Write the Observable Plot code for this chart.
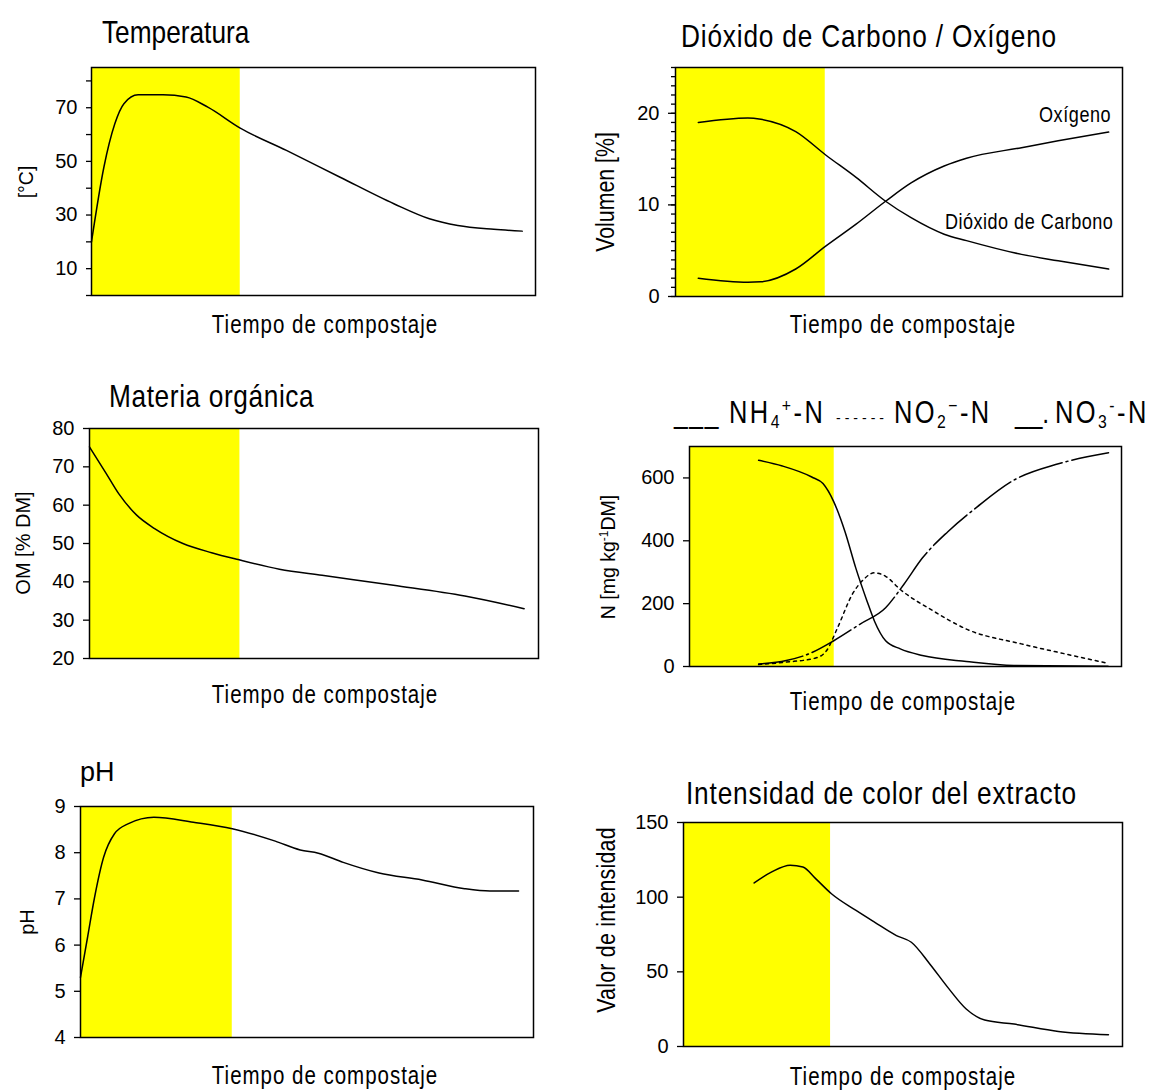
<!DOCTYPE html>
<html><head><meta charset="utf-8">
<script src="https://cdn.jsdelivr.net/npm/d3@7"></script>
<script src="https://cdn.jsdelivr.net/npm/@observablehq/plot@0.6"></script>
<style>
body{margin:0;background:#fff;}
#root{position:relative;width:1156px;height:1092px;overflow:hidden;background:#fff;}
.t{position:absolute;white-space:nowrap;line-height:1;color:#000;font-family:"Liberation Sans",Arial,sans-serif;}
.t .in{display:inline-block;white-space:nowrap;}
.t sub,.t sup{font-size:0.62em;line-height:0;position:relative;vertical-align:baseline;}
.t sub{top:0.3em;}
.t sup{top:-0.55em;}
</style></head><body><div id="root"></div>
<script>
// ---------- data ----------
const phaseEnd = 33.5;           // end of the thermophilic (yellow) phase, time units 0-100
const timeDomain = [0, 100];

// Temperatura
const tempTime  = [0, 2.8, 5.25, 7.3, 10.5, 16.1, 21.3, 26.2, 33.5, 43.9, 56, 68.1, 76.1, 82.5, 90.6, 97];
const tempValue = [20, 47.9, 64, 71.5, 74.8, 74.8, 74, 70.2, 62.4, 54.1, 44.1, 34.2, 28.6, 26.1, 24.7, 24];
const tempTicks = [0, 10, 20, 30, 40, 50, 60, 70, 80];
const tempTickLabels = [10, 30, 50, 70];

// Dióxido de Carbono / Oxígeno
const gasTime   = [5.1, 16.2, 19.1, 26.9, 33.6, 40.4, 47.0, 52.7, 60.1, 65.1, 77.4, 85.6, 96.9];
const co2Value  = [19.0, 19.5, 19.35, 18.0, 15.45, 13.0, 10.4, 8.6, 6.8, 6.1, 4.6, 3.9, 3.0];
const o2Value   = [2.0, 1.55, 1.6, 3.0, 5.5, 7.9, 10.4, 12.4, 14.25, 15.1, 16.25, 17.0, 17.95];
const gasTickLabels = [0, 10, 20];
const gasMinorTicks = [0,1,2,3,4,5,6,7,8,9,10,11,12,13,14,15,16,17,18,19,20,21,22,23,24,25];

// Materia orgánica
const omTime  = [0, 3.7, 6.5, 10.5, 14.5, 20.8, 27.2, 33.1, 42.3, 51.8, 67.7, 83.6, 96.8];
const omValue = [75.2, 68.3, 63.0, 57.4, 53.9, 50.0, 47.6, 45.8, 43.3, 41.7, 39.1, 36.3, 33.0];
const omTicks = [20, 30, 40, 50, 60, 70, 80];

// Nitrógeno
const nh4Time  = [16, 21.5, 28.3, 30.9, 33.4, 36.0, 38.5, 41.1, 42.8, 45.4, 48.8, 53.9, 64.1, 75.1, 96.9];
const nh4Value = [656, 638, 603, 582, 524, 429, 313, 208, 145, 82, 56, 35, 16, 3, 1];
const no2Time  = [16, 22.4, 29.2, 31.7, 34.3, 37.7, 40.3, 42.8, 45.4, 48.8, 56.4, 64.1, 76.8, 87, 96.9];
const no2Value = [6, 14, 27, 50, 124, 230, 277, 298, 287, 245, 177, 119, 72, 40, 10];
const no3Time  = [16, 22.4, 27.6, 33.4, 39.5, 45.4, 49.6, 53.9, 59.8, 66.6, 75.1, 85.4, 97];
const no3Value = [8, 19, 40, 82, 135, 187, 261, 345, 429, 508, 593, 645, 680];
const nTicks = [0, 200, 400, 600];

// pH
const phTime  = [0, 1.56, 3.1, 5.1, 7.5, 10.6, 16.2, 24.9, 33.5, 43.0, 48.5, 52.5, 58.0, 65.9, 75.4, 84.8, 90.4, 96.7];
const phValue = [5.30, 6.17, 7.03, 7.90, 8.41, 8.63, 8.77, 8.66, 8.52, 8.25, 8.06, 7.99, 7.79, 7.56, 7.41, 7.22, 7.17, 7.17];
const phTicks = [4, 5, 6, 7, 8, 9];

// Intensidad de color
const intTime  = [16.1, 20.1, 24.3, 27.2, 30.1, 33.7, 39.3, 43.5, 48.5, 51.9, 56.1, 60.2, 64.4, 68.6, 75.3, 85.4, 96.8];
const intValue = [109.5, 116.9, 121.4, 120.2, 112.4, 102.3, 91.1, 83.3, 74.3, 69.8, 55.3, 39.6, 25.1, 17.7, 15.0, 10.1, 7.9];
const intTicks = [0, 50, 100, 150];

// ---------- helpers ----------
const root = document.getElementById("root");
const phases = [{start: 0, end: phaseEnd}];
const rows = (t, v) => t.map((x, i) => ({t: x, v: v[i]}));

function chart({frame, yDomain, axes, lines}) {
  const [x0, x1, y0, y1] = frame;
  const ml = 80, mr = 6, mt = 6, mb = 6;
  const marks = [
    Plot.rect(phases, {x1: "start", x2: "end", fill: "#ffff00"}),
    ...axes,
    ...lines.map(l => Plot.line(l.data, {x: "t", y: "v", curve: "monotone-x", stroke: "black",
      strokeWidth: 1.5, strokeDasharray: l.dash})),
    Plot.frame({stroke: "black", strokeWidth: 1.5})
  ];
  const el = Plot.plot({
    width: x1 - x0 + ml + mr, height: y1 - y0 + mt + mb,
    marginLeft: ml, marginRight: mr, marginTop: mt, marginBottom: mb,
    x: {domain: timeDomain, axis: null},
    y: {domain: yDomain, label: null},
    style: {fontFamily: '"Liberation Sans", Arial, sans-serif', fontSize: "20px",
      background: "transparent", overflow: "visible", color: "black"},
    marks
  });
  el.style.position = "absolute";
  el.style.left = (x0 - ml) + "px";
  el.style.top = (y0 - mt) + "px";
  root.appendChild(el);
}
const axis = (ticks, size, labels) => Plot.axisY({ticks, tickSize: size, tickPadding: 9, strokeWidth: 1.3,
  tickFormat: d => (labels == null || labels.includes(d)) ? String(d) : ""});

// narrow = horizontal compression factor (emulates a condensed face)
function text(html, {x, y, size, narrow = 0.82, anchor = "start", rotate = false, ls = 0}) {
  const d = document.createElement("div");
  d.className = "t";
  const inner = document.createElement("span");
  inner.className = "in";
  inner.innerHTML = html;
  d.appendChild(inner);
  d.style.fontSize = size + "px";
  d.style.letterSpacing = ls + "px";
  let origin = anchor === "middle" || rotate ? "center" : anchor === "end" ? "right" : "left";
  inner.style.transformOrigin = origin + " center";
  inner.style.transform = `scaleX(${narrow})`;
  if (rotate) {
    d.style.left = x + "px"; d.style.top = y + "px";
    d.style.transform = "translate(-50%,-50%) rotate(-90deg)";
  } else {
    d.style.left = x + "px";
    d.style.top = (y - 0.85 * size) + "px";
    if (anchor === "middle") d.style.transform = "translateX(-50%)";
    if (anchor === "end") d.style.transform = "translateX(-100%)";
  }
  root.appendChild(d);
}

// ---------- panels ----------
chart({frame: [91, 535, 67, 295], yDomain: [0, 85],
  axes: [axis(tempTicks, 5, tempTickLabels)],
  lines: [{data: rows(tempTime, tempValue)}]});

chart({frame: [675, 1122, 67, 296], yDomain: [0, 25],
  axes: [axis(gasMinorTicks, 4, []), axis(gasTickLabels, 7, null)],
  lines: [{data: rows(gasTime, co2Value)}, {data: rows(gasTime, o2Value)}]});

chart({frame: [89, 538, 428, 658], yDomain: [20, 80],
  axes: [axis(omTicks, 6, null)],
  lines: [{data: rows(omTime, omValue)}]});

chart({frame: [689, 1121, 446, 666], yDomain: [0, 700],
  axes: [axis(nTicks, 6, null)],
  lines: [{data: rows(nh4Time, nh4Value)},
          {data: rows(no2Time, no2Value), dash: "3,4"},
          {data: rows(no3Time, no3Value), dash: "45,4,2,4"}]});

chart({frame: [80, 533, 806, 1037], yDomain: [4, 9],
  axes: [axis(phTicks, 6, null)],
  lines: [{data: rows(phTime, phValue)}]});

chart({frame: [683, 1122, 822, 1046], yDomain: [0, 150],
  axes: [axis(intTicks, 6, null)],
  lines: [{data: rows(intTime, intValue)}]});

// ---------- texts ----------
text("Temperatura", {x: 102, y: 43, size: 32});
text("Dióxido de Carbono / Oxígeno", {x: 681, y: 47, size: 32, ls: 1});
text("Materia orgánica", {x: 109, y: 407, size: 32, ls: 0.75});
text("pH", {x: 80, y: 782, size: 27, narrow: 1});
text("Intensidad de color del extracto", {x: 686, y: 804, size: 32, ls: 1});

text("Oxígeno", {x: 1039, y: 123, size: 22, ls: 0.7});
text("Dióxido de Carbono", {x: 945, y: 230, size: 22, ls: 0.6});

// legend for nitrogen panel
text("___", {x: 674, y: 423, size: 30, ls: 2});
text("NH<sub>4</sub><sup>+</sup>-N", {x: 729, y: 423, size: 31, ls: 3});
text("------", {x: 836, y: 423, size: 14, ls: 4, narrow: 1});
text("NO<sub>2</sub><sup>−</sup>-N", {x: 894, y: 423, size: 31, ls: 3});
text("__.", {x: 1015, y: 423, size: 30, ls: 0});
text("NO<sub>3</sub><sup>-</sup>-N", {x: 1055, y: 423, size: 31, ls: 3});

// y labels
text("[°C]", {x: 27, y: 182, size: 19.5, narrow: 1, rotate: true});
text("Volumen [%]", {x: 605, y: 192, size: 26, rotate: true});
text("OM [% DM]", {x: 23, y: 543, size: 20, narrow: 1, rotate: true});
text("N [mg kg<sup>-1</sup>DM]", {x: 609, y: 557, size: 19.5, narrow: 1, rotate: true});
text("pH", {x: 27, y: 922, size: 20, narrow: 1, rotate: true});
text("Valor de intensidad", {x: 606, y: 920, size: 26, ls: 0.3, rotate: true});

// x labels
const xl = "Tiempo de compostaje";
text(xl, {x: 325, y: 333, size: 25, anchor: "middle", ls: 1.2});
text(xl, {x: 903, y: 333, size: 25, anchor: "middle", ls: 1.2});
text(xl, {x: 325, y: 703, size: 25, anchor: "middle", ls: 1.2});
text(xl, {x: 903, y: 710, size: 25, anchor: "middle", ls: 1.2});
text(xl, {x: 325, y: 1084, size: 25, anchor: "middle", ls: 1.2});
text(xl, {x: 903, y: 1085, size: 25, anchor: "middle", ls: 1.2});
</script></body></html>
